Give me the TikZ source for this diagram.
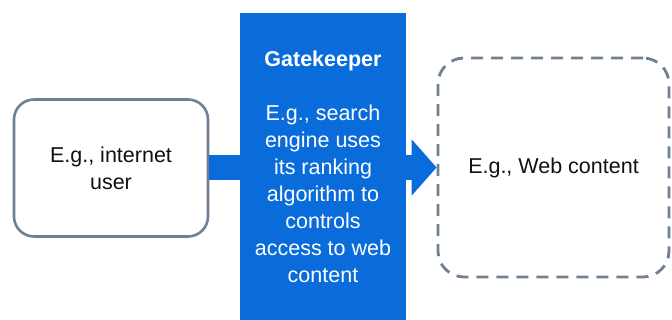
\documentclass[tikz,border=0pt]{standalone}
\usepackage{fontspec}
\setmainfont{Liberation Sans}
\usepackage{tikz}
\usetikzlibrary{arrows.meta}
\definecolor{frame}{HTML}{6F8094}
\definecolor{gateblue}{HTML}{0A6CDB}
\definecolor{ink}{HTML}{111111}
\tikzset{
  userbox/.style={draw=frame, line width=2.6pt, rounded corners=20pt, fill=white,
    minimum width=194pt, minimum height=137pt, align=center, text=ink},
  gatebox/.style={fill=gateblue, minimum width=166pt, minimum height=307pt,
    align=center, text=white, inner sep=0pt},
  webbox/.style={draw=frame, line width=2.8pt, dash pattern=on 12pt off 8pt,
    rounded corners=26pt, minimum width=231pt, minimum height=219pt, align=center, text=ink},
  bar/.style={draw=gateblue, line width=25pt},
  every node/.style={font=\fontsize{21.5}{27}\selectfont}
}
\begin{document}
\begin{tikzpicture}[x=1pt,y=1pt]
  \useasboundingbox (0,0) rectangle (672,320);

  \node[gatebox] (gate) at (323,153.5)
    {\textbf{Gatekeeper}\\[27pt]E.g., search\\engine uses\\its ranking\\algorithm to\\controls\\access to web\\content};
  \node[userbox] (user) at (111,152) {E.g., internet\\user};
  \node[webbox] (web) at (553.5,152.5) {E.g., Web content};

  \draw[bar] (user.east) -- (user.east -| gate.west);
  \draw[bar, -{Triangle[length=25pt, width=55pt]}] (gate.east |- web.west) -- (web.west);
\end{tikzpicture}
\end{document}
